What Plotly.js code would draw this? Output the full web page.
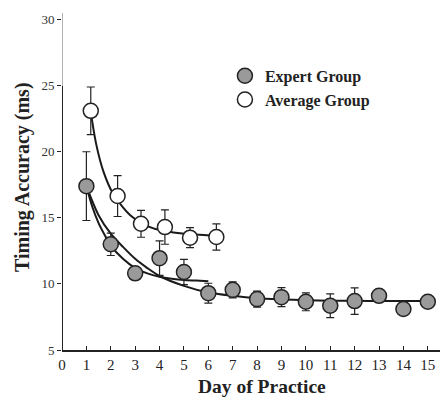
<!DOCTYPE html>
<html>
<head>
<meta charset="utf-8">
<script src="https://cdn.plot.ly/plotly-3.0.1.min.js"></script>
<style>html,body{margin:0;padding:0;background:#fff;}#chart{width:446px;height:398px;}</style>
</head>
<body>
<div id="chart"></div>
<script>
// Expert group: days, mean timing accuracy (ms), error (ms)
const expertDays = [1, 2, 3, 4, 5, 6, 7, 8, 9, 10, 11, 12, 13, 14, 15];
const expertMean = [17.4, 13.0, 10.8, 11.95, 10.9, 9.3, 9.55, 8.85, 9.0, 8.65, 8.35, 8.7, 9.1, 8.1, 8.65];
const expertErr  = [2.6, 0.85, 0.4, 1.3, 0.95, 0.75, 0.6, 0.6, 0.72, 0.68, 0.9, 1.0, 0.3, 0.3, 0.4];

// Average group (plotted slightly offset to the right of each day)
const averageDays = [1.18, 2.28, 3.24, 4.22, 5.25, 6.33];
const averageMean = [23.1, 16.65, 14.55, 14.3, 13.5, 13.55];
const averageErr  = [1.8, 1.55, 1.02, 1.3, 0.76, 1.0];

// Fitted curves
const avgFitX = [1.18, 1.4, 1.7, 2.1, 2.5, 2.8, 3.25, 3.75, 4.2, 4.75, 5.25, 5.8, 6.35, 6.6];
const avgFitY = [23.0, 20.6, 18.5, 16.8, 15.8, 15.2, 14.6, 14.2, 14.0, 13.85, 13.75, 13.7, 13.65, 13.65];

const expFastX = [1, 1.25, 1.5, 1.75, 2, 2.5, 3, 3.5, 4, 4.5, 5, 5.5, 6];
const expFastY = [17.4, 15.8, 14.6, 13.7, 12.9, 11.9, 11.2, 10.8, 10.55, 10.4, 10.3, 10.25, 10.2];

const expSlowX = [1, 1.5, 2, 2.5, 3, 3.5, 4, 5, 6, 7, 8, 9, 10, 11, 12, 13, 15];
const expSlowY = [17.4, 15.2, 13.8, 12.8, 11.9, 11.2, 10.6, 9.85, 9.35, 9.1, 8.92, 8.83, 8.77, 8.73, 8.72, 8.7, 8.7];

const xTickVals = [0,1,2,3,4,5,6,7,8,9,10,11,12,13,14,15];
const yTickVals = [5,10,15,20,25,30];

const serif = 'Liberation Serif, Times New Roman, serif';
const lineStyle = {color: '#1a1a1a', width: 2, shape: 'spline', smoothing: 0.8};
const errStyle = {type: 'data', visible: true, thickness: 1.2, width: 4, color: '#222'};

const traces = [
  {x: avgFitX, y: avgFitY, mode: 'lines', line: lineStyle, showlegend: false, hoverinfo: 'skip'},
  {x: expFastX, y: expFastY, mode: 'lines', line: lineStyle, showlegend: false, hoverinfo: 'skip'},
  {x: expSlowX, y: expSlowY, mode: 'lines', line: lineStyle, showlegend: false, hoverinfo: 'skip'},
  {x: expertDays, y: expertMean, name: 'Expert Group', mode: 'markers',
   error_y: Object.assign({array: expertErr}, errStyle),
   marker: {size: 15, color: '#9a9a9a', line: {color: '#222', width: 1.5}}},
  {x: averageDays, y: averageMean, name: 'Average Group', mode: 'markers',
   error_y: Object.assign({array: averageErr}, errStyle),
   marker: {size: 15, color: '#ffffff', line: {color: '#222', width: 1.5}}}
];

const layout = {
  width: 446, height: 398,
  margin: {l: 62, r: 6, t: 13, b: 48},
  paper_bgcolor: '#fff', plot_bgcolor: '#fff',
  font: {family: serif, color: '#222', size: 14},
  showlegend: true,
  legend: {x: 0.431, y: 0.864, xanchor: 'left', yanchor: 'top', bgcolor: 'rgba(0,0,0,0)',
           font: {family: serif, size: 16, weight: 'bold', color: '#222'}},
  xaxis: {range: [0, 15.5], tickvals: xTickVals, ticks: 'inside', ticklen: 4, tickcolor: '#222',
          showline: true, linecolor: '#222', linewidth: 2, showgrid: false, zeroline: false,
          ticklabelstandoff: 0,
          tickfont: {family: serif, size: 15, color: '#222'}},
  yaxis: {range: [5, 30.5], tickvals: yTickVals, ticks: 'outside', ticklen: 4, tickcolor: '#222',
          showline: false, showgrid: false, zeroline: false,
          tickfont: {family: serif, size: 13, color: '#333'}},
  annotations: [
    {text: 'Day of Practice', xref: 'paper', yref: 'paper', x: 0.529, y: -0.1424,
     xanchor: 'center', yanchor: 'bottom', showarrow: false, borderpad: 0,
     font: {family: serif, size: 19.5, weight: 'bold', color: '#222'}},
    {text: 'Timing Accuracy (ms)', xref: 'paper', yref: 'paper', x: -0.106, y: 0.513,
     xanchor: 'center', yanchor: 'middle', textangle: -90, showarrow: false,
     font: {family: serif, size: 20, weight: 'bold', color: '#222'}}
  ],
  shapes: [
    {type: 'line', xref: 'x', yref: 'y', x0: 0, x1: 0, y0: 5, y1: 25, line: {color: '#222', width: 2}},
    {type: 'line', xref: 'x', yref: 'y', x0: 0, x1: 0, y0: 25, y1: 30.5, line: {color: '#999', width: 1.5}}
  ]
};

Plotly.newPlot('chart', traces, layout, {displayModeBar: false, staticPlot: true});
</script>
</body>
</html>
